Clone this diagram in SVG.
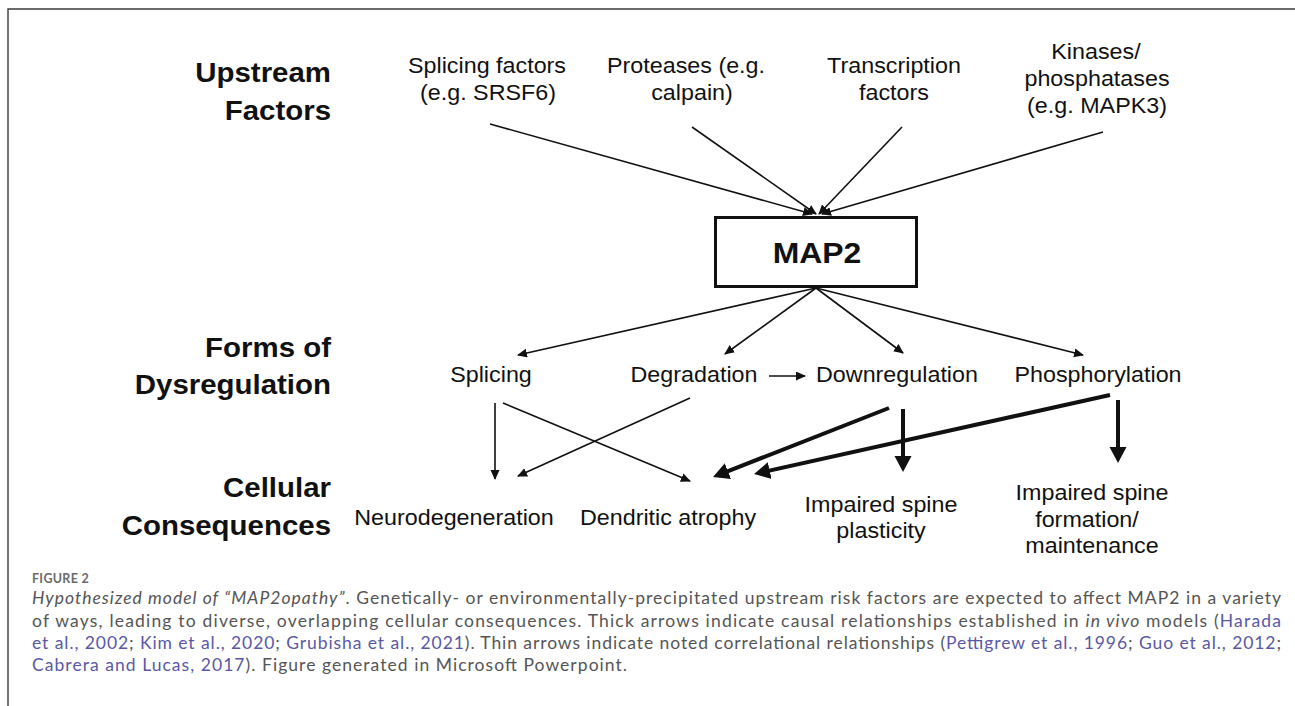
<svg xmlns="http://www.w3.org/2000/svg" width="1295" height="706" viewBox="0 0 1295 706">
<style>
.t{font-family:"Liberation Sans",Arial,Helvetica,sans-serif;font-size:22px;fill:#111;text-anchor:middle}
.h{font-family:"Liberation Sans",Arial,Helvetica,sans-serif;font-size:27px;font-weight:bold;fill:#111;text-anchor:end}
.thin{stroke:#111;stroke-width:1.6;fill:none}
.thick{stroke:#111;stroke-width:4;fill:none}
.cap{font-family:Lato,"Open Sans",sans-serif;font-size:17.5px;fill:#555}
.lnk{fill:#5a58a6}
.it{font-style:italic}
</style>
<defs>
<marker id="ah" markerUnits="userSpaceOnUse" markerWidth="11" markerHeight="10" refX="9" refY="4.5" orient="auto">
<path d="M0,0 L10,4.5 L0,9 z" fill="#111"/>
</marker>
<marker id="ahT" markerUnits="userSpaceOnUse" markerWidth="17" markerHeight="18" refX="10" refY="8.5" orient="auto">
<path d="M0,0 L16,8.5 L0,17 z" fill="#111"/>
</marker>
</defs>
<rect width="1295" height="706" fill="#fff"/>
<path d="M8,706 L8,9 L1295,9" stroke="#3a3a3a" stroke-width="1.4" fill="none"/>

<g id="headers">
<text class="h" transform="translate(331 82) scale(1.09 1)">Upstream</text>
<text class="h" transform="translate(331 120) scale(1.09 1)">Factors</text>
<text class="h" transform="translate(331 357) scale(1.09 1)">Forms of</text>
<text class="h" transform="translate(331 394) scale(1.09 1)">Dysregulation</text>
<text class="h" transform="translate(331 497) scale(1.09 1)">Cellular</text>
<text class="h" transform="translate(331 535) scale(1.09 1)">Consequences</text>
</g>

<g id="splicing-factors">
<text class="t" transform="translate(487 73) scale(1.06 1)">Splicing factors</text>
<text class="t" transform="translate(488 100) scale(1.06 1)">(e.g. SRSF6)</text>
</g>
<g id="proteases">
<text class="t" transform="translate(686 73) scale(1.06 1)">Proteases (e.g.</text>
<text class="t" transform="translate(692 100) scale(1.06 1)">calpain)</text>
</g>
<g id="transcription-factors">
<text class="t" transform="translate(894 73) scale(1.06 1)">Transcription</text>
<text class="t" transform="translate(894 100) scale(1.06 1)">factors</text>
</g>
<g id="kinases">
<text class="t" transform="translate(1096 59) scale(1.06 1)">Kinases/</text>
<text class="t" transform="translate(1097 86) scale(1.06 1)">phosphatases</text>
<text class="t" transform="translate(1097 113) scale(1.06 1)">(e.g. MAPK3)</text>
</g>

<g id="map2">
<rect x="715.5" y="217.5" width="201" height="69" fill="#fff" stroke="#111" stroke-width="3"/>
<text class="t" style="font-weight:bold;font-size:29px" transform="translate(817 263) scale(1.1 1)">MAP2</text>
</g>

<g id="splicing"><text class="t" transform="translate(491 382) scale(1.06 1)">Splicing</text></g>
<g id="degradation"><text class="t" transform="translate(694 382) scale(1.06 1)">Degradation</text></g>
<g id="downregulation"><text class="t" transform="translate(897 382) scale(1.06 1)">Downregulation</text></g>
<g id="phosphorylation"><text class="t" transform="translate(1098 382) scale(1.06 1)">Phosphorylation</text></g>

<g id="neurodegeneration"><text class="t" transform="translate(454 525) scale(1.06 1)">Neurodegeneration</text></g>
<g id="dendritic-atrophy"><text class="t" transform="translate(668 525) scale(1.06 1)">Dendritic atrophy</text></g>
<g id="spine-plasticity">
<text class="t" transform="translate(881 512) scale(1.06 1)">Impaired spine</text>
<text class="t" transform="translate(881 538) scale(1.06 1)">plasticity</text>
</g>
<g id="spine-formation">
<text class="t" transform="translate(1092 500) scale(1.06 1)">Impaired spine</text>
<text class="t" transform="translate(1087 527) scale(1.06 1)">formation/</text>
<text class="t" transform="translate(1092 553) scale(1.06 1)">maintenance</text>
</g>

<g id="connectors">
<line class="thin" x1="490" y1="124" x2="812" y2="214" marker-end="url(#ah)"/>
<line class="thin" x1="692" y1="127" x2="816" y2="214" marker-end="url(#ah)"/>
<line class="thin" x1="902" y1="127" x2="819" y2="214" marker-end="url(#ah)"/>
<line class="thin" x1="1103" y1="132" x2="822" y2="214" marker-end="url(#ah)"/>
<line class="thin" x1="816" y1="288" x2="518" y2="355" marker-end="url(#ah)"/>
<line class="thin" x1="816" y1="288" x2="725" y2="354" marker-end="url(#ah)"/>
<line class="thin" x1="816" y1="288" x2="903" y2="353" marker-end="url(#ah)"/>
<line class="thin" x1="816" y1="288" x2="1083" y2="355" marker-end="url(#ah)"/>
<line class="thin" x1="769" y1="376" x2="805" y2="376" marker-end="url(#ah)"/>
<line class="thin" x1="495" y1="403" x2="495" y2="479" marker-end="url(#ah)"/>
<line class="thin" x1="503" y1="403" x2="690" y2="481" marker-end="url(#ah)"/>
<line class="thin" x1="690" y1="398" x2="518" y2="476" marker-end="url(#ah)"/>
<line class="thick" x1="889" y1="408" x2="718.6" y2="474.8" marker-end="url(#ahT)"/>
<line class="thick" x1="1110" y1="395" x2="759.9" y2="472.7" marker-end="url(#ahT)"/>
<line class="thick" x1="903" y1="409" x2="903" y2="466" marker-end="url(#ahT)"/>
<line class="thick" x1="1118" y1="400" x2="1118" y2="457" marker-end="url(#ahT)"/>
</g>

<g id="caption">
<text x="32" y="583" style="font-family:Lato,'Open Sans',sans-serif;font-size:12.5px;font-weight:bold;fill:#6a6a6a;letter-spacing:0.3px">FIGURE 2</text>
<text class="cap" x="32" y="604" textLength="1249" lengthAdjust="spacing"><tspan class="it">Hypothesized model of “MAP2opathy”</tspan>. Genetically- or environmentally-precipitated upstream risk factors are expected to affect MAP2 in a variety</text>
<text class="cap" x="32" y="627" textLength="1249" lengthAdjust="spacing">of ways, leading to diverse, overlapping cellular consequences. Thick arrows indicate causal relationships established in <tspan class="it">in vivo</tspan> models (<tspan class="lnk">Harada</tspan></text>
<text class="cap" x="32" y="649" textLength="1249" lengthAdjust="spacing"><tspan class="lnk">et al., 2002</tspan>; <tspan class="lnk">Kim et al., 2020</tspan>; <tspan class="lnk">Grubisha et al., 2021</tspan>). Thin arrows indicate noted correlational relationships (<tspan class="lnk">Pettigrew et al., 1996</tspan>; <tspan class="lnk">Guo et al., 2012</tspan>;</text>
<text class="cap" x="32" y="671" textLength="595" lengthAdjust="spacing"><tspan class="lnk">Cabrera and Lucas, 2017</tspan>). Figure generated in Microsoft Powerpoint.</text>
</g>
</svg>
